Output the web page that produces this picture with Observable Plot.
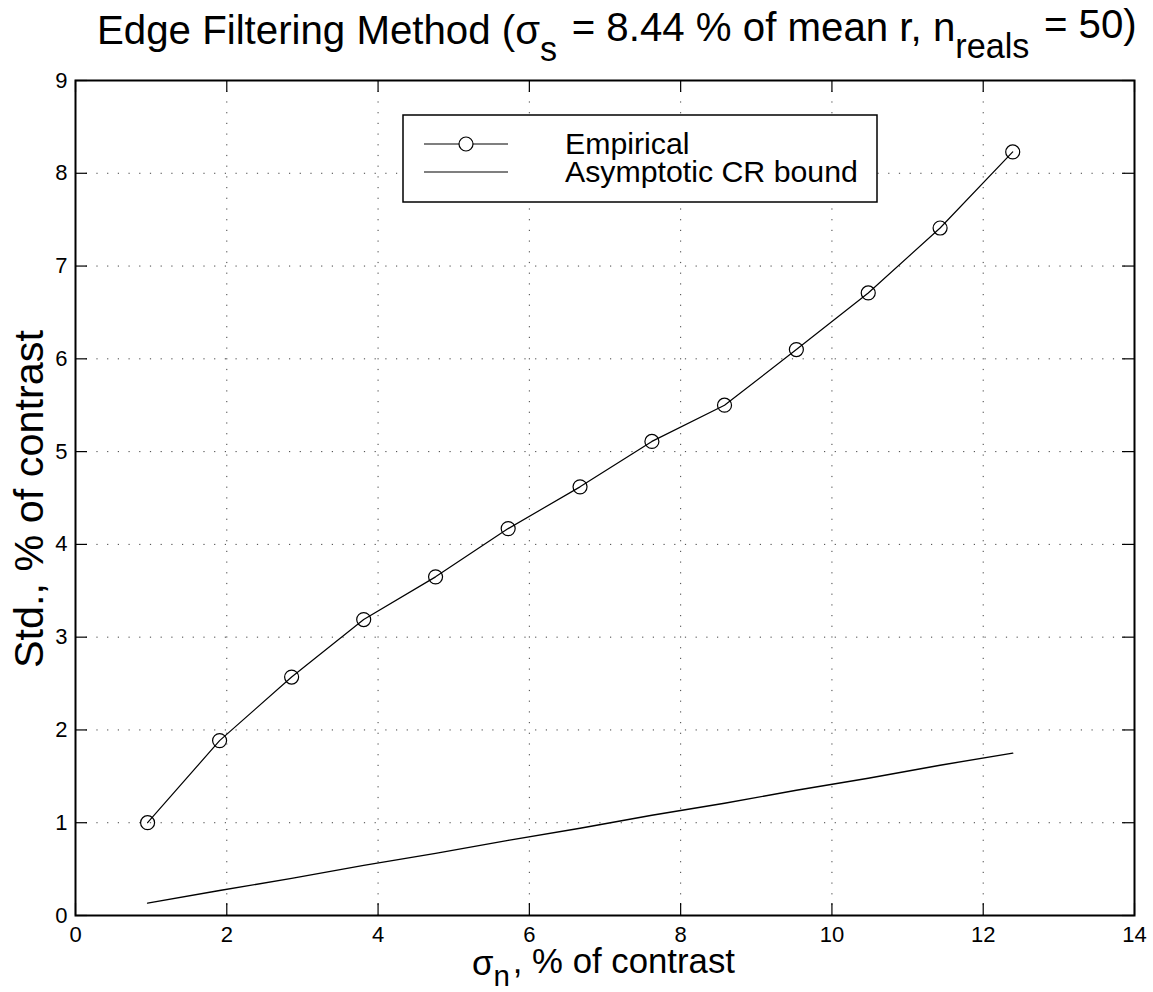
<!DOCTYPE html>
<html>
<head>
<meta charset="utf-8">
<script src="https://cdn.jsdelivr.net/npm/d3@7"></script>
<script src="https://cdn.jsdelivr.net/npm/@observablehq/plot@0.6"></script>
<style>
  html, body { margin: 0; padding: 0; background: white; }
  #chart svg { display: block; }
</style>
</head>
<body>
<div id="chart"></div>
<script>
// ---- data ----
const sigmaN = [0.953, 1.905, 2.857, 3.81, 4.76, 5.72, 6.67, 7.62, 8.58, 9.53, 10.48, 11.43, 12.39];
const empirical = [1.00, 1.885, 2.57, 3.19, 3.65, 4.17, 4.62, 5.11, 5.50, 6.10, 6.71, 7.41, 8.23];
const crBound = [0.133, 0.27, 0.40, 0.54, 0.67, 0.81, 0.94, 1.08, 1.21, 1.35, 1.48, 1.62, 1.75];
const xTicks = [0, 2, 4, 6, 8, 10, 12, 14];
const yTicks = [0, 1, 2, 3, 4, 5, 6, 7, 8, 9];
const seriesNames = ["Empirical", "Asymptotic CR bound"];

const empRows = sigmaN.map((x, i) => ({x, y: empirical[i]}));
const crRows = sigmaN.map((x, i) => ({x, y: crBound[i]}));

const W = 1153, H = 992, mL = 75, mR = 19, mT = 80, mB = 77;
const plotW = W - mL - mR, plotH = H - mT - mB;
const tickLen = 12;
const font = "'Liberation Sans', Arial, Helvetica, sans-serif";

const chart = Plot.plot({
  width: W, height: H,
  marginLeft: mL, marginRight: mR, marginTop: mT, marginBottom: mB,
  x: {domain: [0, 14]},
  y: {domain: [0, 9]},
  style: {fontFamily: font, fontSize: "22px", background: "white", color: "black", overflow: "visible"},
  marks: [
    Plot.gridX(xTicks.slice(1, -1), {stroke: "#000", strokeOpacity: 0.75, strokeWidth: 1, strokeDasharray: "1.2,9.5"}),
    Plot.gridY(yTicks.slice(1, -1), {stroke: "#000", strokeOpacity: 0.75, strokeWidth: 1, strokeDasharray: "1.2,9.5"}),
    // inward ticks on all four sides
    Plot.ruleX(xTicks, {insetTop: plotH - tickLen, stroke: "black", strokeWidth: 1.2}),
    Plot.ruleX(xTicks, {insetBottom: plotH - tickLen, stroke: "black", strokeWidth: 1.2}),
    Plot.ruleY(yTicks, {insetRight: plotW - tickLen, stroke: "black", strokeWidth: 1.2}),
    Plot.ruleY(yTicks, {insetLeft: plotW - tickLen, stroke: "black", strokeWidth: 1.2}),
    Plot.axisX(xTicks, {tickSize: 0, tickPadding: 11, label: null, fontSize: 22, tickFormat: d3.format("d")}),
    Plot.axisY(yTicks, {tickSize: 0, tickPadding: 8, label: null, fontSize: 22, tickFormat: d3.format("d")}),
    Plot.line(crRows, {x: "x", y: "y", stroke: "black", strokeWidth: 1.4}),
    Plot.line(empRows, {x: "x", y: "y", stroke: "black", strokeWidth: 1.2}),
    Plot.dot(empRows, {x: "x", y: "y", r: 7, stroke: "black", fill: "none", strokeWidth: 1.2}),
    Plot.frame({stroke: "black", strokeWidth: 2})
  ]
});
document.getElementById("chart").appendChild(chart);

const svg = d3.select(chart);
svg.selectAll("text").style("font-size", "22px").style("font-family", font);

function addText(parent, parts, attrs, drop) {
  const t = parent.append("text")
    .attr("font-family", font)
    .attr("fill", "black")
    .attr("text-anchor", "start");
  for (const [k, v] of Object.entries(attrs)) t.attr(k, v);
  for (const [str, sub] of parts) {
    if (sub) {
      t.append("tspan").attr("font-size", "0.85em").attr("dy", drop + "em").text(str);
      t.append("tspan").attr("dy", (-drop) + "em").text("\u200A");
    } else {
      t.append("tspan").text(str);
    }
  }
  return t;
}
function fitWidth(t, target) {
  const fs = parseFloat(t.attr("font-size"));
  const w = t.node().getComputedTextLength();
  t.attr("font-size", fs * target / w);
}

// Title
const title = addText(svg, [["Edge Filtering Method (\u03C3"], ["s", true], [" = 8.44 % of mean r, n"], ["reals", true], [" = 50)"]],
  {x: 97, y: 44, "font-size": 30}, 0.5);
fitWidth(title, 1040);

// X label
const xl = addText(svg, [["\u03C3"], ["n", true], [", % of contrast"]],
  {x: 472, y: 975, "font-size": 28}, 0.38);
fitWidth(xl, 263);

// Y label
const yl = addText(svg, [["Std., % of contrast"]],
  {transform: "translate(43,499) rotate(-90)", "font-size": 28, "text-anchor": "middle"}, 0);
fitWidth(yl, 338);

// Legend
const lg = svg.append("g");
lg.append("rect").attr("x", 403).attr("y", 115).attr("width", 474).attr("height", 87)
  .attr("fill", "white").attr("stroke", "black").attr("stroke-width", 1.5);
lg.append("line").attr("x1", 424).attr("x2", 508).attr("y1", 144).attr("y2", 144).attr("stroke", "black").attr("stroke-width", 1.2);
lg.append("circle").attr("cx", 466).attr("cy", 144).attr("r", 7).attr("fill", "white").attr("stroke", "black").attr("stroke-width", 1.2);
lg.append("line").attr("x1", 424).attr("x2", 508).attr("y1", 172).attr("y2", 172).attr("stroke", "black").attr("stroke-width", 1.2);
const l1 = addText(lg, [[seriesNames[0]]], {x: 565, y: 154, "font-size": 26}, 0);
const l2 = addText(lg, [[seriesNames[1]]], {x: 565, y: 182, "font-size": 26}, 0);
fitWidth(l2, 293);
l1.attr("font-size", l2.attr("font-size"));
</script>
</body>
</html>
